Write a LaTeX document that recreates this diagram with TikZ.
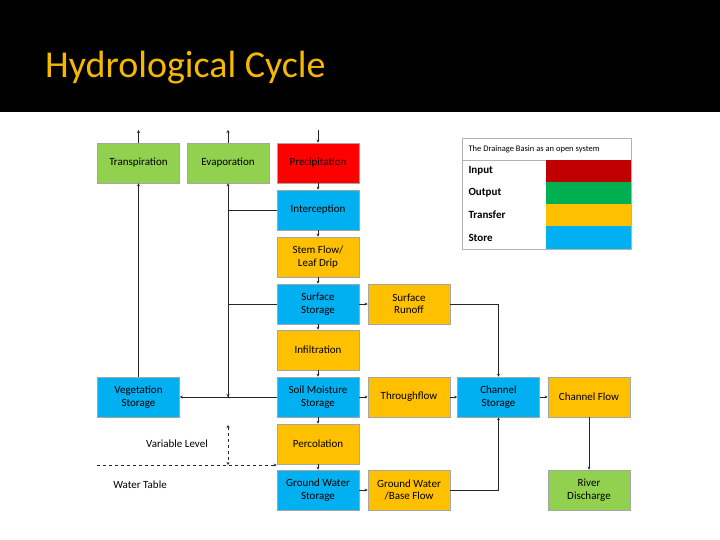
\documentclass[tikz,border=0pt]{standalone}
\usepackage{fontspec}
\setmainfont{Carlito}
\usetikzlibrary{arrows.meta}
\definecolor{gr}{HTML}{92D050}
\definecolor{rd}{HTML}{FF0000}
\definecolor{bl}{HTML}{00B0F0}
\definecolor{og}{HTML}{FFC000}
\definecolor{lrd}{HTML}{C00000}
\definecolor{lgr}{HTML}{00B050}
\definecolor{ttl}{HTML}{F5B800}
\tikzset{
 bx/.style={draw=gray!70,line width=0.6pt,minimum width=82pt,minimum height=40pt,align=center,font=\fontsize{11}{12.5}\selectfont,inner sep=1pt},
 ln/.style={draw=black!85,line width=0.8pt},
 ar/.style={ln,-{Stealth[length=3pt,width=3pt]}},
}
\begin{document}
\begin{tikzpicture}[x=1pt,y=-1pt]
\useasboundingbox (0,0) rectangle (720,540);
\fill[white] (0,0) rectangle (720,540);
\fill[black] (0,0) rectangle (720,112);
\node[anchor=base west,text=ttl,font=\fontsize{38}{40}\selectfont,inner sep=0] (title) at (45,78) {Hydrological Cycle};
% boxes
\node[bx,fill=gr] (tr) at (138.5,163) {Transpiration};
\node[bx,fill=gr] (ev) at (228,163) {Evaporation};
\node[bx,fill=rd] (pr) at (318,163) {Precipitation};
\node[bx,fill=bl] (ic) at (318,210) {Interception};
\node[bx,fill=og] (sf) at (318,257) {Stem Flow/\\Leaf Drip};
\node[bx,fill=bl] (ss) at (318,304) {Surface\\Storage};
\node[bx,fill=og] (sr) at (409,304) {Surface\\Runoff};
\node[bx,fill=og] (in) at (318,350) {Infiltration};
\node[bx,fill=bl] (sm) at (318,397) {Soil Moisture\\Storage};
\node[bx,fill=bl] (vs) at (138.5,397) {Vegetation\\Storage};
\node[bx,fill=og] (th) at (409,397) {Throughflow};
\node[bx,fill=bl] (cs) at (498.5,397) {Channel\\Storage};
\node[bx,fill=og] (cf) at (589,397) {Channel Flow};
\node[bx,fill=og] (pe) at (318,444) {Percolation};
\node[bx,fill=bl] (gw) at (318,490) {Ground Water\\Storage};
\node[bx,fill=og] (bf) at (409,490) {Ground Water\\/Base Flow};
\node[bx,fill=gr] (rv) at (589,490) {River\\Discharge};
% coordinates
\coordinate (trT) at (138.5,130);
\coordinate (evT) at (228,130);
\coordinate (prT) at (318,130);
\draw[ar] (tr.north) -- (trT);
\draw[ar] (ev.north) -- (evT);
\draw[ar] (prT) -- (pr.north);
\draw[ar] (pr) -- (ic);
\draw[ar] (ic) -- (sf);
\draw[ar] (sf) -- (ss);
\draw[ar] (ss) -- (in);
\draw[ar] (in) -- (sm);
\draw[ar] (sm) -- (pe);
\draw[ar] (pe) -- (gw);
\draw[ar] (vs.north) -- (tr.south);
\coordinate (j1) at (228,397);
\draw[ar] (j1) -- (ev.south);
\draw[ln] (ic.west) -- (ic.west -| ev.south);
\draw[ln] (ss.west) -- (ss.west -| ev.south);
\draw[ar] (sm.west) -- (vs.east);
\draw[ar] (228,388) -- (j1);
\draw[ar] (ss) -- (sr);
\draw[ar] (sr.east) -| (cs.north);
\draw[ar] (sm) -- (th);
\draw[ar] (th) -- (cs);
\draw[ar] (cs) -- (cf);
\draw[ar] (cf) -- (rv);
\draw[ar] (gw) -- (bf);
\draw[ar] (bf.east) -| (cs.south);
% dashed
\coordinate (wt) at (97,465);
\draw[ln,dashed,line width=0.6pt,-{Stealth[length=3pt,width=3pt]}] (wt) -- (wt -| gw.west);
\coordinate (v1) at (228,425);
\coordinate (v2) at (228,465);
\draw[ln,dashed,line width=0.6pt,{Stealth[length=3pt,width=3pt]}-{Stealth[length=3pt,width=3pt]}] (v1) -- (v2);
\node[font=\fontsize{11}{12}\selectfont] (vl) at (177,444) {Variable Level};
\node[font=\fontsize{11}{12}\selectfont] (wtl) at (140,485) {Water Table};
% legend
\draw[gray!60,line width=0.5pt] (462,138) rectangle (631,249);
\node[anchor=west,font=\fontsize{8.5}{9}\selectfont] (lt) at (465,149) {The Drainage Basin as an open system};
\draw[gray!60,line width=0.5pt] (462,160) -- (631,160);
\fill[lrd] (546,160) rectangle (631,182);
\fill[lgr] (546,182) rectangle (631,204);
\fill[og] (546,204) rectangle (631,226);
\fill[bl] (546,226) rectangle (631,249);
\node[anchor=west,font=\bfseries\fontsize{11}{12}\selectfont] (l1) at (465,171) {Input};
\node[anchor=west,font=\bfseries\fontsize{11}{12}\selectfont] (l2) at (465,193) {Output};
\node[anchor=west,font=\bfseries\fontsize{11}{12}\selectfont] (l3) at (465,215) {Transfer};
\node[anchor=west,font=\bfseries\fontsize{11}{12}\selectfont] (l4) at (465,238) {Store};
\end{tikzpicture}
\end{document}
